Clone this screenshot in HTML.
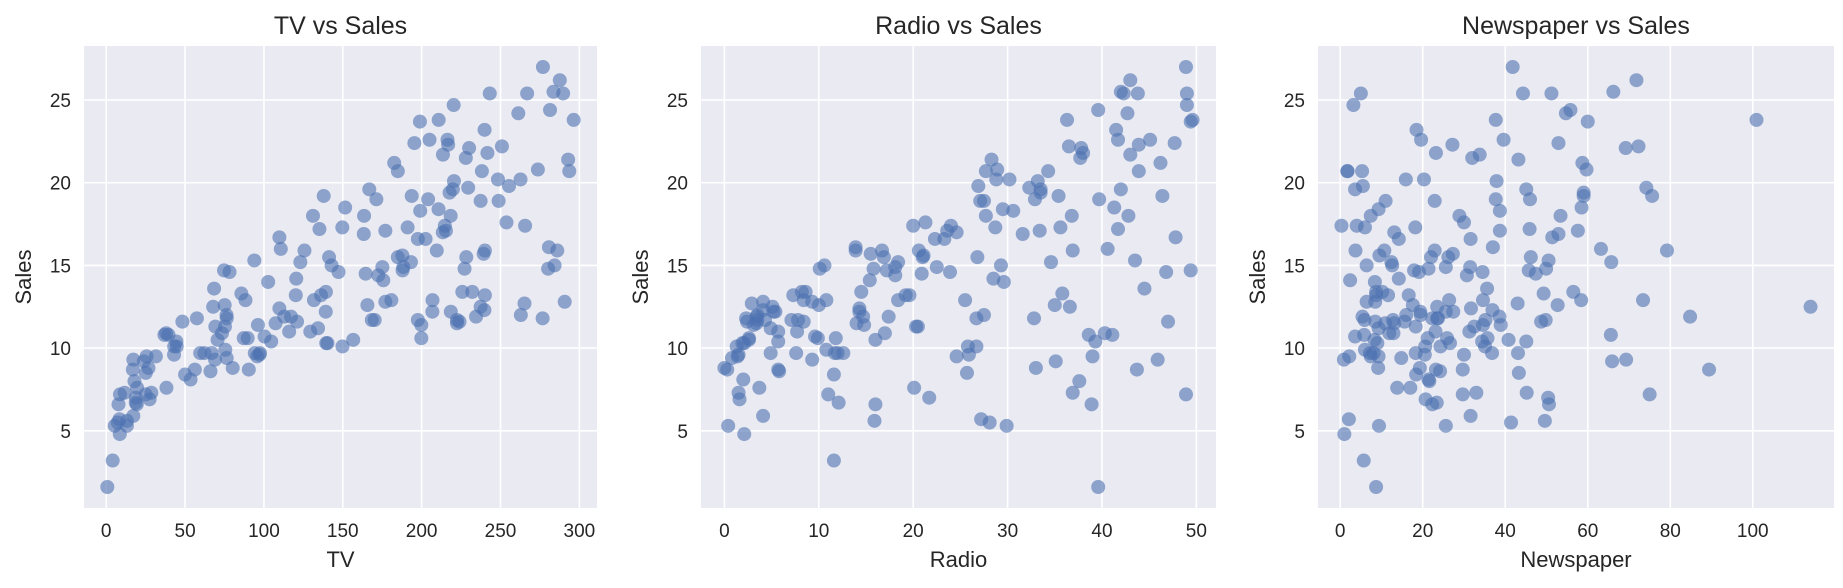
<!DOCTYPE html>
<html><head><meta charset="utf-8"><style>
html,body{margin:0;padding:0;background:#fff;}
svg{display:block;font-family:"Liberation Sans",sans-serif;}
</style></head><body>
<svg id="fig" width="1843" height="588" viewBox="0 0 1843 588" xmlns="http://www.w3.org/2000/svg"></svg>
<script>
const tv=[230.1,44.5,17.2,151.5,180.8,8.7,57.5,120.2,8.6,199.8,66.1,214.7,23.8,97.5,204.1,195.4,67.8,281.4,69.2,147.3,218.4,237.4,13.2,228.3,62.3,262.9,142.9,240.1,248.8,70.6,292.9,112.9,97.2,265.6,95.7,290.7,266.9,74.7,43.1,228,202.5,177,293.6,206.9,25.1,175.1,89.7,239.9,227.2,66.9,199.8,100.4,216.4,182.6,262.7,198.9,7.3,136.2,210.8,210.7,53.5,261.3,239.3,102.7,131.1,69,31.5,139.3,237.4,216.8,199.1,109.8,26.8,129.4,213.4,16.9,27.5,120.5,5.4,116,76.4,239.8,75.3,68.4,213.5,193.2,76.3,110.7,88.3,109.8,134.3,28.6,217.7,250.9,107.4,163.3,197.6,184.9,289.7,135.2,222.4,296.4,280.2,187.9,238.2,137.9,25,90.4,13.1,255.4,225.8,241.7,175.7,209.6,78.2,75.1,139.2,76.4,125.7,19.4,141.3,18.8,224,123.1,229.5,87.2,7.8,80.2,220.3,59.6,0.7,265.2,8.4,219.8,36.9,48.3,25.6,273.7,43,184.9,73.4,193.7,220.5,104.6,96.2,140.3,240.1,243.2,38,44.7,280.7,121,197.6,171.3,187.8,4.1,93.9,149.8,11.7,131.7,172.5,85.7,188.4,163.5,117.2,234.5,17.9,206.8,215.4,284.3,50,164.5,19.6,168.4,222.4,276.9,248.4,170.2,276.7,165.6,156.6,218.5,56.2,287.6,253.8,205,139.5,191.1,286,18.7,39.5,75.5,17.2,166.8,149.7,38.2,94.2,177,283.6,232.1];
const radio=[37.8,39.3,45.9,41.3,10.8,48.9,32.8,19.6,2.1,2.6,5.8,24,35.1,7.6,32.9,47.7,36.6,39.6,20.5,23.9,27.7,5.1,15.9,16.9,12.6,3.5,29.3,16.7,27.1,16,28.3,17.4,1.5,20,1.4,4.1,43.8,49.4,26.7,37.7,22.3,33.4,27.7,8.4,25.7,22.5,9.9,41.5,15.8,11.7,3.1,9.6,41.7,46.2,28.8,49.4,28.1,19.2,49.6,29.5,2,42.7,15.5,29.6,42.8,9.3,24.6,14.5,27.5,43.9,30.6,14.3,33,5.7,24.6,43.7,1.6,28.5,29.9,7.7,26.7,4.1,20.3,44.5,43,18.4,27.5,40.6,25.5,47.8,4.9,1.5,33.5,36.5,14,31.6,3.5,21,42.3,41.7,4.3,36.3,10.1,17.2,34.3,46.4,11,0.3,0.4,26.9,8.2,38,15.4,20.6,46.8,35,14.3,0.8,36.9,16,26.8,21.7,2.4,34.6,32.3,11.8,38.9,0,49,12,39.6,2.9,27.2,33.5,38.6,47,39,28.9,25.9,43.9,17,35.4,33.2,5.7,14.8,1.9,7.3,49,40.3,25.8,13.9,8.4,23.3,39.7,21.1,11.6,43.5,1.3,36.9,18.4,18.1,35.8,18.1,36.8,14.7,3.4,37.6,5.2,23.6,10.6,11.6,20.9,20.1,7.1,3.4,48.9,30.2,7.8,2.3,10,2.6,5.4,5.7,43,21.3,45.1,2.1,28.7,13.9,12.1,41.1,10.8,4.1,42,35.6,3.7,4.9,9.3,42,8.6];
const newspaper=[69.2,45.1,69.3,58.5,58.4,75,23.5,11.6,1,21.2,24.2,4,65.9,7.2,46,52.9,114,55.8,18.3,19.1,53.4,23.5,49.6,26.2,18.3,19.5,12.6,22.9,22.9,40.8,43.2,38.6,30,0.3,7.4,8.5,5,45.7,35.1,32,31.6,38.7,1.8,26.4,43.3,31.5,35.7,18.5,49.9,36.8,34.6,3.6,39.6,58.7,15.9,60,41.4,16.6,37.7,9.3,21.4,54.7,27.3,8.4,28.9,0.9,2.2,10.2,11,27.2,38.7,31.7,19.3,31.3,13.1,89.4,20.7,14.2,9.4,23.1,22.3,36.9,32.5,35.6,33.8,65.7,16,63.2,73.4,51.4,9.3,33,59,72.3,10.9,52.9,5.9,22,51.2,45.9,49.8,100.9,21.4,17.9,5.3,59,29.7,23.2,25.6,5.5,56.5,23.2,2.4,10.7,34.5,52.7,25.6,14.8,79.2,22.3,46.2,50.4,15.6,12.4,74.2,25.9,50.6,9.2,3.2,43.1,8.7,43,2.1,45.1,65.6,8.5,9.3,59.7,20.5,1.7,12.9,75.6,37.9,34.4,38.9,9,8.7,44.3,11.9,20.6,37,48.7,14.2,37.7,9.5,5.7,50.5,24.3,45.2,34.6,30.7,49.3,25.6,7.4,5.4,84.8,21.6,19.4,57.6,6.4,18.4,47.4,17,12.8,13.1,41.8,20.3,35.2,23.7,17.6,8.3,27.4,29.7,71.8,30,19.6,26.6,18.2,3.7,23.4,5.8,6,31.6,3.6,6,13.8,8.1,6.4,66.2,8.7];
const sales=[22.1,10.4,9.3,18.5,12.9,7.2,11.8,13.2,4.8,10.6,8.6,17.4,9.2,9.7,19,22.4,12.5,24.4,11.3,14.6,18,12.5,5.6,15.5,9.7,12,15,15.9,18.9,10.5,21.4,11.9,9.6,17.4,9.5,12.8,25.4,14.7,10.1,21.5,16.6,17.1,20.7,12.9,8.5,14.9,10.6,23.2,14.8,9.7,11.4,10.7,22.6,21.2,20.2,23.7,5.5,13.2,23.8,18.4,8.1,24.2,15.7,14,18,9.3,9.5,13.4,18.9,22.3,18.3,12.4,8.8,11,17,8.7,6.9,14.2,5.3,11,11.8,12.3,11.3,13.6,21.7,15.2,12,16,12.9,16.7,11.2,7.3,19.4,22.2,11.5,16.9,11.7,15.5,25.4,17.2,11.7,23.8,14.8,14.7,20.7,19.2,7.2,8.7,5.3,19.8,13.4,21.8,14.1,15.9,14.6,12.6,12.2,9.4,15.9,6.6,15.5,7,11.6,15.2,19.7,10.6,6.6,8.8,24.7,9.7,1.6,12.7,5.7,19.6,10.8,11.6,9.5,20.8,9.6,20.7,10.9,19.2,20.1,10.4,11.4,10.3,13.2,25.4,10.9,10.1,16.1,11.6,16.6,19,15.6,3.2,15.3,10.1,7.3,12.9,14.4,13.3,14.9,18,11.9,11.9,8,12.2,17.1,15,8.4,14.5,7.6,11.7,11.5,27,20.2,11.7,11.8,12.6,10.5,12.2,8.7,26.2,17.6,22.6,10.3,17.3,15.9,6.7,10.8,9.9,5.9,19.6,17.3,7.6,9.7,12.8,25.5,13.4];
const tvTicks=[0,50,100,150,200,250,300];
const radioTicks=[0,10,20,30,40,50];
const newsTicks=[0,20,40,60,80,100];
const salesTicks=[5,10,15,20,25];

const NS="http://www.w3.org/2000/svg";
const svgEl=document.getElementById('fig');
function mk(tag,attrs,parent){const e=document.createElementNS(NS,tag);for(const k in attrs)e.setAttribute(k,attrs[k]);(parent||svgEl).appendChild(e);return e;}
function ext(a){let mn=Math.min(...a),mx=Math.max(...a),m=(mx-mn)*0.05;return [mn-m,mx+m];}
const plotTop=46,plotBot=508;
const panels=[
 {xs:tv,ticks:tvTicks,left:84,right:597,title:'TV vs Sales',xl:'TV',key:'tv'},
 {xs:radio,ticks:radioTicks,left:701,right:1216,title:'Radio vs Sales',xl:'Radio',key:'radio'},
 {xs:newspaper,ticks:newsTicks,left:1318,right:1834,title:'Newspaper vs Sales',xl:'Newspaper',key:'newspaper'}
];
const yd=ext(sales);
function ys(v){return plotBot-(v-yd[0])/(yd[1]-yd[0])*(plotBot-plotTop);}
panels.forEach(p=>{
 const xd=ext(p.xs);
 const xs=v=>p.left+(v-xd[0])/(xd[1]-xd[0])*(p.right-p.left);
 const g=mk('g',{});
 
 
 const bg=mk('rect',{x:p.left,y:plotTop,width:p.right-p.left,height:plotBot-plotTop,fill:'#eaeaf2'},g);
 
 
 p.ticks.forEach(t=>{
  const x=xs(t);
  const l=mk('line',{x1:x,x2:x,y1:plotTop,y2:plotBot,stroke:'#fff','stroke-width':1.6},g);
  
  
  const tx=mk('text',{x:x,y:537,'text-anchor':'middle','font-size':19,fill:'#262626'},g);
  tx.textContent=t;
  
  
 });
 salesTicks.forEach(t=>{
  const y=ys(t);
  const l=mk('line',{x1:p.left,x2:p.right,y1:y,y2:y,stroke:'#fff','stroke-width':1.6},g);
  
  
  const tx=mk('text',{x:p.left-13,y:y+7,'text-anchor':'end','font-size':19,fill:'#262626'},g);
  tx.textContent=t;
  
  
 });
 p.xs.forEach((v,i)=>{
  const c=mk('circle',{cx:xs(v),cy:ys(sales[i]),r:7,fill:'#4c72b0','fill-opacity':0.6},g);
  
  
 });
 const ti=mk('text',{x:(p.left+p.right)/2,y:34,'text-anchor':'middle','font-size':25,fill:'#262626'},g);
 ti.textContent=p.title;
 
 
 const xl=mk('text',{x:(p.left+p.right)/2,y:567,'text-anchor':'middle','font-size':22,fill:'#262626'},g);
 xl.textContent=p.xl;
 
 
 const yl=mk('text',{x:0,y:0,'text-anchor':'middle','font-size':22,fill:'#262626',transform:`translate(${p.left-53},${(plotTop+plotBot)/2}) rotate(-90)`},g);
 yl.textContent='Sales';
 
 
});
</script>
</body></html>
